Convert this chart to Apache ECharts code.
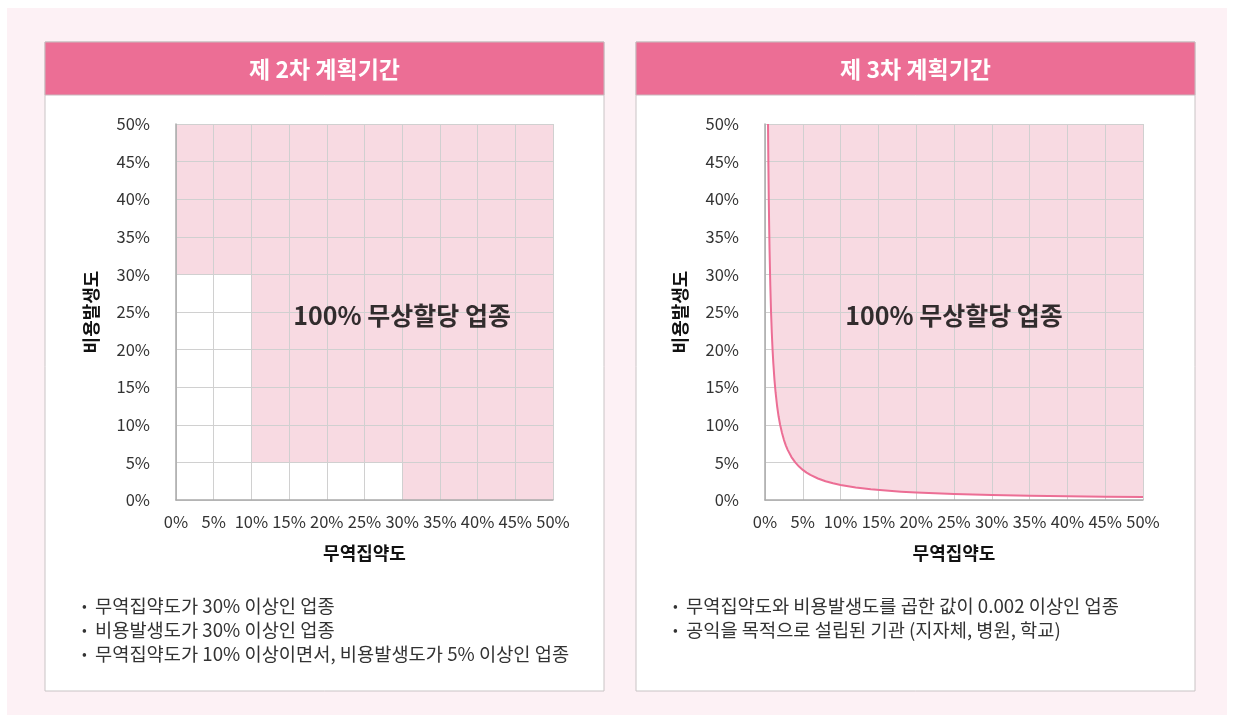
<!DOCTYPE html>
<html>
<head>
<meta charset="utf-8">
<script src="https://cdn.jsdelivr.net/npm/echarts@6/dist/echarts.min.js"></script>
<style>
  html, body { margin: 0; padding: 0; background: #fff; }
  #main { width: 1234px; height: 722px; }
</style>
</head>
<body>
<div id="main"></div>
<script>
var FONT = '"Noto Sans CJK KR", "Noto Sans", sans-serif';

// axis ticks (percent)
var axisMin = 0;
var axisMax = 50;
var axisStep = 5;

// 2nd period: boundary of the 100% free allocation region [무역집약도, 비용발생도]
var period2Boundary = [[0, 30], [10, 30], [10, 5], [30, 5], [30, 0], [50, 0]];

// 3rd period: boundary curve
var period3X = [0.4, 0.42, 0.45, 0.5, 0.55, 0.6, 0.7, 0.8, 0.9, 1, 1.1, 1.25, 1.4, 1.6, 1.8, 2, 2.25, 2.5, 2.75, 3, 3.5, 4, 4.5, 5, 5.5, 6, 7, 8, 9, 10, 12, 14, 16, 18, 20, 25, 30, 35, 40, 45, 50];
var period3Y = [50, 47.6, 44.4, 40, 36.4, 33.3, 28.6, 25, 22.2, 20, 18.2, 16, 14.3, 12.5, 11.1, 10, 8.9, 8, 7.27, 6.67, 5.71, 5, 4.44, 4, 3.64, 3.33, 2.86, 2.5, 2.22, 2, 1.67, 1.43, 1.25, 1.11, 1, 0.8, 0.67, 0.57, 0.5, 0.44, 0.4];

var titles = ['제 2차 계획기간', '제 3차 계획기간'];
var regionLabel = '100% 무상할당 업종';
var labelPos = [[30, 24.5], [25, 24.5]];
var notes2 = [
  '무역집약도가 30% 이상인 업종',
  '비용발생도가 30% 이상인 업종',
  '무역집약도가 10% 이상이면서, 비용발생도가 5% 이상인 업종'
];
var notes3 = [
  '무역집약도와 비용발생도를 곱한 값이 0.002 이상인 업종',
  '공익을 목적으로 설립된 기관 (지자체, 병원, 학교)'
];

var pink = '#ec6e95';
var fill = '#f8dae2';

var chart = echarts.init(document.getElementById('main'));

function makeX(i) {
  return {
    gridIndex: i, type: 'value', min: axisMin, max: axisMax, interval: axisStep, z: 3,
    name: '무역집약도', nameLocation: 'middle', nameGap: 44,
    nameTextStyle: { fontFamily: FONT, fontSize: 18, fontWeight: 'bold', color: '#111' },
    axisLine: { show: true, lineStyle: { color: '#aaa', width: 1.5 } },
    axisTick: { show: false },
    splitLine: { lineStyle: { color: '#d0d0d0' } },
    axisLabel: { formatter: '{value}%', margin: 13, fontFamily: FONT, fontSize: 16.5, color: '#333' }
  };
}
function makeY(i) {
  return {
    gridIndex: i, type: 'value', min: axisMin, max: axisMax, interval: axisStep, z: 3,
    name: '비용발생도', nameLocation: 'middle', nameGap: 76, nameRotate: 90,
    nameTextStyle: { fontFamily: FONT, fontSize: 18, fontWeight: 'bold', color: '#111' },
    axisLine: { show: true, lineStyle: { color: '#aaa', width: 1.5 } },
    axisTick: { show: false },
    splitLine: { lineStyle: { color: '#d0d0d0' } },
    axisLabel: { formatter: '{value}%', margin: 26, fontFamily: FONT, fontSize: 16.5, color: '#333' }
  };
}

var curve = period3X.map(function (x, i) { return [x, period3Y[i]]; });

function panelGraphics(left, title, notes, bulletX) {
  var g = [
    { type: 'rect', shape: { x: left, y: 42, width: 559, height: 649 },
      style: { fill: '#fff', stroke: '#c9c4c5', lineWidth: 1 }, z: -10 },
    { type: 'rect', shape: { x: left, y: 42, width: 559, height: 53 },
      style: { fill: pink, stroke: '#c9b8bd', lineWidth: 1 }, z: -9 },
    { type: 'text', x: left + 279.5, y: 69, z: 10,
      style: { text: title, fill: '#fff', font: 'bold 23px ' + FONT, textAlign: 'center', textVerticalAlign: 'middle' } }
  ];
  notes.forEach(function (t, k) {
    g.push({ type: 'text', x: bulletX, y: 606 + k * 24, z: 10,
      style: { text: '•', fill: '#333', font: '14px ' + FONT, textVerticalAlign: 'middle' } });
    g.push({ type: 'text', x: bulletX + 13, y: 606 + k * 24, z: 10,
      style: { text: t, fill: '#333', font: '18.7px ' + FONT, textVerticalAlign: 'middle' } });
  });
  return g;
}

var option = {
  animation: false,
  graphic: [
    { type: 'rect', shape: { x: 7, y: 8, width: 1220, height: 707 }, style: { fill: '#fdf1f5' }, z: -20 }
  ].concat(panelGraphics(45, titles[0], notes2, 82), panelGraphics(636, titles[1], notes3, 673)),
  grid: [
    { left: 176, top: 124, width: 377, height: 376 },
    { left: 765, top: 124, width: 378, height: 376 }
  ],
  xAxis: [makeX(0), makeX(1)],
  yAxis: [makeY(0), makeY(1)],
  series: [
    { type: 'line', xAxisIndex: 0, yAxisIndex: 0, data: period2Boundary, z: 1,
      symbol: 'none', lineStyle: { width: 0, opacity: 0 },
      areaStyle: { color: fill, opacity: 1, origin: 'end' } },
    { type: 'line', xAxisIndex: 1, yAxisIndex: 1, data: curve, z: 1,
      symbol: 'none', lineStyle: { width: 0, opacity: 0 },
      areaStyle: { color: fill, opacity: 1, origin: 'end' } },
    { type: 'line', xAxisIndex: 1, yAxisIndex: 1, data: curve, z: 5,
      symbol: 'none', lineStyle: { width: 2, color: pink, join: 'round' } },
    { type: 'scatter', xAxisIndex: 0, yAxisIndex: 0, data: [labelPos[0]], symbolSize: 0, z: 6,
      label: { show: true, position: 'inside', formatter: regionLabel, fontFamily: FONT, fontSize: 25, fontWeight: 'bold', color: '#000' } },
    { type: 'scatter', xAxisIndex: 1, yAxisIndex: 1, data: [labelPos[1]], symbolSize: 0, z: 6,
      label: { show: true, position: 'inside', formatter: regionLabel, fontFamily: FONT, fontSize: 25, fontWeight: 'bold', color: '#000' } }
  ]
};

chart.setOption(option);
</script>
</body>
</html>
